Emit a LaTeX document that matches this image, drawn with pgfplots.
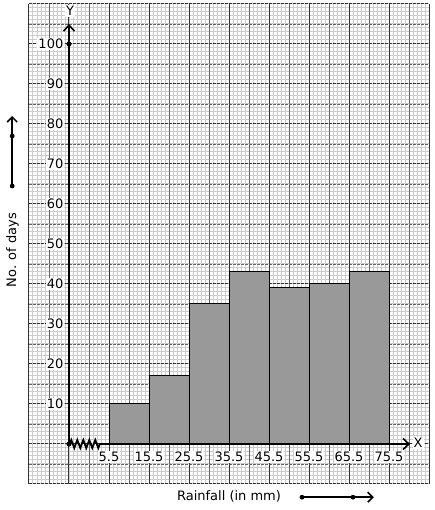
\documentclass[border=0pt]{standalone}
\usepackage{fontspec}
\setmainfont{DejaVu Sans}
\usepackage{pgfplots}
\pgfplotsset{compat=1.18}
\usetikzlibrary{arrows.meta,decorations.pathmorphing}
\definecolor{barfill}{RGB}{153,153,153}
\definecolor{minorgrid}{RGB}{205,205,205}
\definecolor{majorgrid}{RGB}{50,50,50}
\definecolor{halfgrid}{RGB}{100,100,100}
\begin{document}
\fontsize{13}{15}\selectfont
\begin{tikzpicture}
\begin{axis}[at={(0,0)},anchor=south west,scale only axis,width=400pt,height=480pt,
  xmin=-1,xmax=9,ymin=-10,ymax=110,clip=false,axis lines=none]
% graph paper
\pgfplotsinvokeforeach{-1,-0.9,...,9.05}{\draw[minorgrid,line width=1pt] (axis cs:#1,-10) -- (axis cs:#1,110);}
\pgfplotsinvokeforeach{-10,-9,...,110}{\draw[minorgrid,line width=1pt] (axis cs:-1,#1) -- (axis cs:9,#1);}
\pgfplotsinvokeforeach{-0.5,0.5,...,8.5}{\draw[halfgrid,line width=0.9pt] (axis cs:#1,-10) -- (axis cs:#1,110);}
\pgfplotsinvokeforeach{-5,5,...,105}{\draw[halfgrid,line width=0.9pt,dash pattern=on 3pt off 1pt] (axis cs:-1,#1) -- (axis cs:9,#1);}
\pgfplotsinvokeforeach{-10,0,...,110}{\draw[majorgrid,line width=1pt,dash pattern=on 3pt off 1pt] (axis cs:-1,#1) -- (axis cs:9,#1);}
\pgfplotsinvokeforeach{-1,0,...,9}{\draw[majorgrid,line width=1pt] (axis cs:#1,-10) -- (axis cs:#1,110);}
% histogram
\addplot[ybar interval, fill=barfill, draw=black, line width=1pt]
  coordinates {(1,10) (2,17) (3,35) (4,43) (5,39) (6,40) (7,43) (8,0)};
% axes
\draw[line width=2.5pt,-{Straight Barb[length=6pt,width=11pt,line width=1.6pt]}] (axis cs:0,0) -- (axis cs:0,105);
\draw[line width=2.5pt,-{Straight Barb[length=6pt,width=11pt,line width=1.6pt]}] (axis cs:0.78,0) -- (axis cs:8.53,0);
\draw[line width=1.8pt,decorate,decoration={zigzag,amplitude=4pt,segment length=6pt}] (axis cs:0.02,0) -- (axis cs:0.78,0);
\fill (axis cs:0,0) circle (2.6pt);
\fill (axis cs:0,100) circle (2.6pt);
\node[fill=white,inner sep=1pt] at (axis cs:0.03,108.3) {Y};
\node[fill=white,inner sep=1pt] at (axis cs:8.73,0.3) {X};
% tick labels
\pgfplotsinvokeforeach{10,20,...,100}{\node[anchor=east,fill=white,inner sep=1pt,xshift=-4.5pt] at (axis cs:0,#1) {#1};}
\node[fill=white,inner sep=1pt,yshift=-13pt] at (axis cs:1,0) {5.5};
\node[fill=white,inner sep=1pt,yshift=-13pt] at (axis cs:2,0) {15.5};
\node[fill=white,inner sep=1pt,yshift=-13pt] at (axis cs:3,0) {25.5};
\node[fill=white,inner sep=1pt,yshift=-13pt] at (axis cs:4,0) {35.5};
\node[fill=white,inner sep=1pt,yshift=-13pt] at (axis cs:5,0) {45.5};
\node[fill=white,inner sep=1pt,yshift=-13pt] at (axis cs:6,0) {55.5};
\node[fill=white,inner sep=1pt,yshift=-13pt] at (axis cs:7,0) {65.5};
\node[fill=white,inner sep=1pt,yshift=-13pt] at (axis cs:8,0) {75.5};
% outside labels and arrows
\node[rotate=90] at (axis cs:-1.41,48.5) {No. of days};
\draw[line width=2pt,-{Straight Barb[length=5pt,width=10pt,line width=1.5pt]}] (axis cs:-1.42,64.5) -- (axis cs:-1.42,82);
\fill (axis cs:-1.42,64.5) circle (2.4pt);
\fill (axis cs:-1.42,77) circle (2.4pt);
\node at (axis cs:4.0,-13) {Rainfall (in mm)};
\draw[line width=2pt,-{Straight Barb[length=5pt,width=10pt,line width=1.5pt]}] (axis cs:5.825,-13.3) -- (axis cs:7.62,-13.3);
\fill (axis cs:5.825,-13.3) circle (2.4pt);
\fill (axis cs:7.1,-13.3) circle (2.4pt);
\end{axis}
\pgfresetboundingbox
\path (-29pt,-26pt) rectangle (405pt,484pt);
\end{tikzpicture}
\end{document}
